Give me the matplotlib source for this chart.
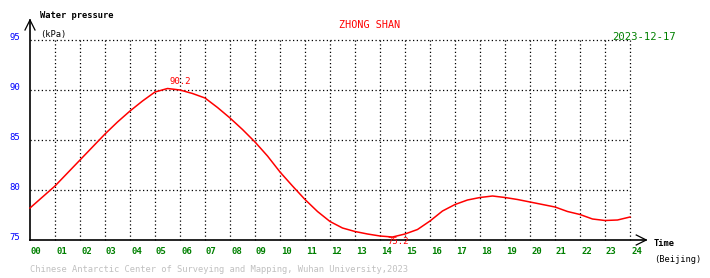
import matplotlib
matplotlib.use("Agg")
import matplotlib.pyplot as plt

# ---- data ----
hours = [0, 0.5, 1, 1.5, 2, 2.5, 3, 3.5, 4, 4.5, 5, 5.5, 6, 6.5, 7, 7.5, 8, 8.5,
         9, 9.5, 10, 10.5, 11, 11.5, 12, 12.5, 13, 13.5, 14, 14.5, 15, 15.5, 16,
         16.5, 17, 17.5, 18, 18.5, 19, 19.5, 20, 20.5, 21, 21.5, 22, 22.5, 23,
         23.5, 24]
pressure = [78.2, 79.3, 80.4, 81.7, 83.0, 84.3, 85.6, 86.8, 87.9, 88.9, 89.8,
            90.15, 90.0, 89.65, 89.2, 88.25, 87.2, 86.05, 84.8, 83.4, 81.8,
            80.4, 79.05, 77.85, 76.85, 76.2, 75.85, 75.6, 75.4, 75.3, 75.6,
            76.05, 76.9, 77.9, 78.55, 79.0, 79.25, 79.4, 79.25, 79.05, 78.8,
            78.55, 78.3, 77.85, 77.55, 77.1, 76.95, 77.0, 77.3]
x_tick_labels = ["%02d" % h for h in range(25)]
y_ticks = [75, 80, 85, 90, 95]
peak_pos, peak_text = (5.6, 90.2), "90.2"
trough_pos, trough_text = (14.3, 75.2), "75.2"
station = "ZHONG SHAN"
date_text = "2023-12-17"
footer = "Chinese Antarctic Center of Surveying and Mapping, Wuhan University,2023"

W, H = 710, 278
fig = plt.figure(figsize=(W / 100, H / 100), dpi=100)
x0, x1, ytop, ybot = 30, 630, 40, 240
ax = fig.add_axes([x0 / W, (H - ybot) / H, (x1 - x0) / W, (ybot - ytop) / H])
ax.set_xlim(0, 24)
ax.set_ylim(75, 95)
for s in ax.spines.values():
    s.set_visible(False)
ax.set_xticks([])
ax.set_yticks([])

mono = "DejaVu Sans Mono"
dot = (0, (1, 2))
# grid
for v in y_ticks[1:]:
    ax.plot([0, 24], [v, v], color="black", lw=0.9, ls=dot, clip_on=False)
for h in range(1, 25):
    ax.plot([h, h], [75, 95], color="black", lw=0.9, ls=dot, clip_on=False)

# axes with arrows
ax.plot([0, 0], [75, 97], color="black", lw=1.2, clip_on=False)
ax.plot([-0.2, 0, 0.2], [96, 97, 96], color="black", lw=0.9, clip_on=False)
ax.plot([0, 24.65], [75, 75], color="black", lw=1.2, clip_on=False)
ax.plot([24.25, 24.65, 24.25], [75.5, 75, 74.5], color="black", lw=0.9, clip_on=False)

# curve
ax.plot(hours, pressure, color="#ff0000", lw=1.1, clip_on=False)

# extreme labels
ax.text(peak_pos[0], peak_pos[1] + 0.15, peak_text, color="#ff0000", fontsize=6.5,
        family=mono, ha="left", va="bottom")
ax.text(trough_pos[0], trough_pos[1] + 0.05, trough_text, color="#ff0000", fontsize=6.5,
        family=mono, ha="left", va="top")


def ftext(x, y, s, **kw):
    fig.text(x / W, 1 - y / H, s, family=mono, **kw)


# tick labels
for v in y_ticks:
    ftext(9, 240 - (v - 75) * 10 - 3, str(v), color="#0000ff", fontsize=6.5,
          ha="left", va="center")
for h, lab in enumerate(x_tick_labels):
    ftext(30 + 25 * h + 1, 251, lab, color="#008000", fontsize=6.5,
          ha="left", va="center", fontweight="bold")

ftext(40, 16, "Water pressure", color="black", fontsize=6.3, ha="left", va="center",
      fontweight="bold")
ftext(40, 34, "(kPa)", color="black", fontsize=6.3, ha="left", va="center")
ftext(339, 25, station, color="#ff0000", fontsize=7.3, ha="left", va="center")
ftext(612, 37, date_text, color="#008000", fontsize=7.6, ha="left", va="center")
ftext(654, 244, "Time", color="black", fontsize=6.3, ha="left", va="center",
      fontweight="bold")
ftext(654, 260, "(Beijing)", color="black", fontsize=6.3, ha="left", va="center")
ftext(30, 270, footer, color="#c0c0c0", fontsize=6.3, ha="left", va="center")

fig.savefig("out.png", dpi=100)
